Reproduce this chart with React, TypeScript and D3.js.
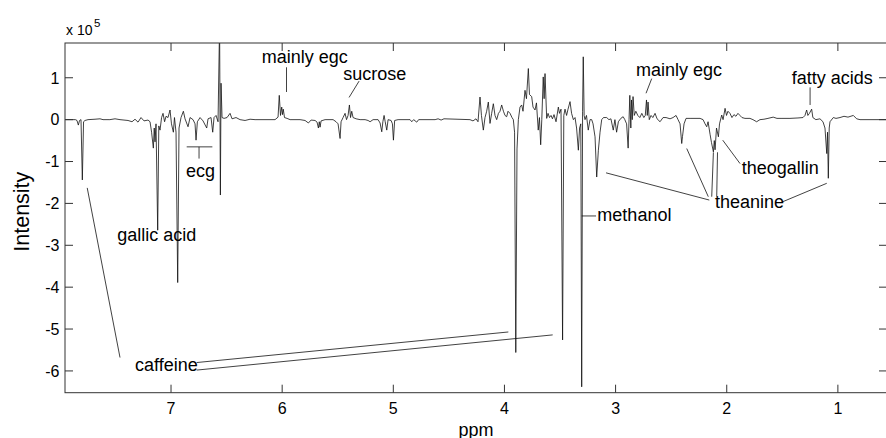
import React from "react";
import * as d3 from "d3";

// 1H NMR difference spectrum: [chemical shift (ppm), intensity (x 10^5)]
const spectrum: [number, number][] = [
  [7.95, 0], [7.91, 0], [7.86, 0], [7.846, -0.02], [7.834, -0.13], [7.823, -0.02], [7.81, 0],
  [7.798, -1.44], [7.787, -0.05], [7.774, -0.02], [7.747, 0], [7.684, 0.01], [7.639, 0.02],
  [7.612, 0], [7.55, 0], [7.504, 0.02], [7.459, 0], [7.387, -0.02], [7.351, -0.05], [7.324, 0.01],
  [7.297, -0.06], [7.27, 0.05], [7.243, -0.03], [7.207, -0.01], [7.189, -0.05], [7.175, -0.3],
  [7.159, -0.68], [7.151, -0.2], [7.144, -0.53], [7.135, -0.1], [7.12, -2.64], [7.11, -0.15],
  [7.099, -0.25], [7.085, 0.05], [7.072, 0.15], [7.058, -0.05], [7.045, 0.08], [7.027, 0.05],
  [7.009, 0.23], [6.996, -0.1], [6.979, -0.3], [6.969, 0.05], [6.955, -0.3], [6.94, -3.89],
  [6.928, -0.2], [6.91, 0.05], [6.889, 0.2], [6.874, 0.02], [6.847, -0.17], [6.829, 0.05],
  [6.802, 0], [6.784, -0.1], [6.775, -0.49], [6.763, -0.05], [6.739, 0.05], [6.712, -0.03],
  [6.679, -0.2], [6.667, 0.02], [6.64, 0.05], [6.625, -0.3], [6.613, 0.05], [6.595, 0.1],
  [6.577, -0.05], [6.563, 2.3], [6.556, -1.8], [6.55, 0.87], [6.541, 0.05], [6.523, 0.03],
  [6.496, 0.05], [6.469, 0.15], [6.451, 0.02], [6.415, 0.05], [6.379, 0], [6.334, -0.02],
  [6.289, 0.01], [6.244, 0], [6.064, 0], [6.037, 0.06], [6.026, 0.58], [6.015, 0.1], [6.004, 0.3],
  [5.997, 0.12], [5.99, 0.25], [5.979, 0.05], [5.956, 0.03], [5.929, 0], [5.839, 0], [5.794, -0.02],
  [5.764, -0.08], [5.74, -0.01], [5.704, -0.02], [5.686, -0.06], [5.674, -0.2], [5.666, -0.05],
  [5.659, -0.18], [5.65, -0.03], [5.614, 0], [5.542, 0], [5.515, -0.05], [5.497, -0.1],
  [5.479, -0.45], [5.47, -0.05], [5.452, 0.05], [5.434, 0.15], [5.421, 0], [5.407, 0.1],
  [5.395, 0.35], [5.385, 0.05], [5.374, 0.2], [5.362, 0.05], [5.335, 0.02], [5.299, 0], [5.254, 0],
  [5.227, -0.02], [5.209, -0.05], [5.182, 0], [5.137, 0], [5.119, -0.08], [5.104, -0.29],
  [5.094, -0.05], [5.083, 0.1], [5.073, -0.05], [5.059, -0.25], [5.047, 0], [5.02, -0.02],
  [5.008, -0.1], [4.999, -0.49], [4.988, -0.02], [4.957, 0], [4.849, 0], [4.834, -0.05], [4.817, 0],
  [4.789, -0.06], [4.772, 0], [4.624, 0], [4.597, 0.02], [4.57, -0.01], [4.544, 0.02], [4.31, 0],
  [4.283, -0.03], [4.256, 0.02], [4.238, -0.05], [4.22, 0.54], [4.207, 0.1], [4.19, -0.25],
  [4.175, 0.05], [4.16, 0.2], [4.145, 0.42], [4.13, -0.09], [4.115, 0.15], [4.1, 0.38], [4.085, 0.1],
  [4.07, 0], [4.054, 0.15], [4.04, 0.2], [4.025, 0.35], [4.009, 0.2], [3.995, 0.1], [3.98, 0.07],
  [3.968, 0.2], [3.95, 0.15], [3.932, 0.05], [3.92, 0], [3.909, -0.3], [3.898, -5.56], [3.887, -0.7],
  [3.875, 0], [3.86, 0.3], [3.845, 0.35], [3.833, 0.2], [3.815, 0.7], [3.802, 0.5], [3.785, 1.22],
  [3.775, 0.6], [3.755, 0.55], [3.743, 0.3], [3.725, 0.23], [3.712, 0.4], [3.696, -0.25],
  [3.685, 0.05], [3.674, -0.6], [3.664, 0], [3.651, 1.02], [3.643, 0.5], [3.635, 1.1], [3.62, 0.03],
  [3.608, 0.15], [3.595, 0.05], [3.581, 0.1], [3.568, 0.02], [3.554, 0.12], [3.536, -0.05],
  [3.515, 0.3], [3.505, 0.15], [3.491, 0.25], [3.477, -5.26], [3.466, 0.1], [3.455, 0.25],
  [3.441, 0.1], [3.428, 0.25], [3.41, 0.43], [3.396, 0.15], [3.38, 0], [3.365, 0.05], [3.351, -0.2],
  [3.335, -0.73], [3.324, -0.2], [3.313, -0.1], [3.305, -6.38], [3.297, 0.2], [3.291, 1.5],
  [3.283, 0.1], [3.275, 0], [3.262, 0.1], [3.246, -0.25], [3.23, 0], [3.215, 0], [3.203, -0.1],
  [3.185, -0.41], [3.17, -1.37], [3.155, -0.73], [3.14, -0.3], [3.125, 0], [3.109, 0.05],
  [3.08, 0.05], [3.06, 0], [3.042, 0.02], [3.021, -0.25], [3.006, 0], [2.991, -0.3], [2.975, -0.05],
  [2.953, 0.03], [2.932, 0.07], [2.917, 0], [2.901, -0.1], [2.887, -0.68], [2.879, 0], [2.872, 0.58],
  [2.863, -0.2], [2.857, 0.47], [2.85, 0], [2.843, 0.55], [2.832, 0.1], [2.818, 0.2], [2.8, 0.1],
  [2.782, 0.05], [2.764, 0.15], [2.746, 0.05], [2.733, 0.1], [2.722, 0.47], [2.715, 0.1],
  [2.708, 0.42], [2.697, 0], [2.681, 0.1], [2.665, 0.05], [2.645, 0.15], [2.627, 0.02], [2.6, -0.05],
  [2.573, 0.05], [2.546, 0.05], [2.51, 0.02], [2.483, 0.05], [2.456, 0.1], [2.438, 0], [2.42, -0.1],
  [2.405, -0.57], [2.398, -0.4], [2.384, -0.1], [2.366, 0.03], [2.33, 0.03], [2.24, 0.03],
  [2.213, 0], [2.195, -0.1], [2.18, -0.17], [2.168, -0.05], [2.15, -0.35], [2.137, -0.55],
  [2.12, -0.77], [2.112, -0.5], [2.105, -0.72], [2.092, -0.2], [2.075, -0.41], [2.065, -0.1],
  [2.045, 0.11], [2.033, 0], [2.015, 0.27], [2.002, 0.1], [1.989, 0.2], [1.971, 0.15], [1.953, 0.05],
  [1.935, 0.12], [1.917, 0.08], [1.899, 0.15], [1.881, 0.1], [1.863, 0.05], [1.836, 0.03],
  [1.791, 0.03], [1.764, 0], [1.731, -0.05], [1.701, 0], [1.665, 0.01], [1.629, 0.03], [1.582, 0.06],
  [1.548, 0.03], [1.503, 0.03], [1.431, 0.03], [1.359, 0.04], [1.314, 0.05], [1.296, 0.1],
  [1.281, 0.23], [1.27, 0.1], [1.256, 0.15], [1.236, 0.25], [1.225, 0.05], [1.198, 0], [1.161, 0.02],
  [1.134, -0.05], [1.116, -0.2], [1.1, -0.81], [1.093, -0.3], [1.086, -1.4], [1.078, -0.2],
  [1.071, -0.05], [1.041, 0.05], [1.017, 0.03], [0.981, 0.05], [0.945, 0.08], [0.909, 0.06],
  [0.861, 0.1], [0.831, 0.02], [0.801, 0], [0.558, 0],
];

const xTicks = [7, 6, 5, 4, 3, 2, 1];
const yTicks = [-6, -5, -4, -3, -2, -1, 0, 1];

// peak assignments (text start, in data units)
const labelText = ["mainly egc", "sucrose", "ecg", "gallic acid", "caffeine", "methanol",
  "mainly egc", "theanine", "theogallin", "fatty acids"];
const labelPpm = [6.184, 5.45, 6.865, 7.483, 7.324, 3.164, 2.816, 2.105, 1.865, 1.415];
const labelIntensity = [1.35, 0.94, -1.36, -2.89, -5.99, -2.42, 1.04, -2.12, -1.3, 0.86];

// leader lines [ppm1, int1, ppm2, int2]
const leaders = [
  [5.961, 1.25, 5.961, 0.66],
  [5.308, 0.92, 5.398, 0.53],
  [6.859, -0.65, 6.628, -0.65],
  [6.748, -0.65, 6.748, -0.93],
  [7.754, -1.63, 7.459, -5.68],
  [6.769, -5.8, 3.965, -5.07],
  [6.769, -5.98, 3.566, -5.14],
  [3.305, -2.3, 3.176, -2.3],
  [2.675, 0.98, 2.726, 0.63],
  [1.25, 0.77, 1.25, 0.35],
  [1.88, -1.05, 2.036, -0.49],
  [2.157, -1.92, 3.086, -1.27],
  [2.166, -1.84, 2.36, -0.69],
  [2.135, -1.84, 2.12, -0.78],
  [2.09, -1.84, 2.083, -0.78],
  [1.505, -1.97, 1.1, -1.52],
];

const W = 886;
const H = 438;
const left = 65;
const right = 887;
const top = 43;
const bottom = 392.7;
const font = "'Liberation Sans', Arial, Helvetica, sans-serif";

export default function App() {
  const x = d3.scaleLinear().domain([7.954, 0.558]).range([left, right]);
  const y = d3.scaleLinear().domain([-6.52, 1.83]).range([bottom, top]);

  const line = d3
    .line<[number, number]>()
    .x(d => x(d[0]))
    .y(d => y(d[1]));

  const tickLen = 8;

  return (
    <svg width={W} height={H} style={{ position: "absolute", left: 0, top: 0, background: "#fff" }}
      fontFamily={font}>
      <defs>
        <clipPath id="plotArea">
          <rect x={left} y={top} width={right - left} height={bottom - top} />
        </clipPath>
      </defs>

      <path d={line(spectrum) || ""} fill="none" stroke="#111" strokeWidth={0.8}
        clipPath="url(#plotArea)" />

      {/* annotation leaders */}
      {leaders.map((l, i) => (
        <line key={"ld" + i} x1={x(l[0])} y1={y(l[1])} x2={x(l[2])} y2={y(l[3])}
          stroke="#111" strokeWidth={0.8} />
      ))}
      {labelText.map((t, i) => (
        <text key={"lb" + i} x={x(labelPpm[i])} y={y(labelIntensity[i])} fontSize={18} fill="#000">
          {t}
        </text>
      ))}

      {/* axes box */}
      <rect x={left} y={top} width={right - left} height={bottom - top} fill="none"
        stroke="#333" strokeWidth={1} />
      {xTicks.map(t => (
        <g key={"xt" + t}>
          <line x1={x(t)} x2={x(t)} y1={bottom} y2={bottom - tickLen} stroke="#333" />
          <line x1={x(t)} x2={x(t)} y1={top} y2={top + tickLen} stroke="#333" />
          <text x={x(t)} y={413.5} fontSize={16} textAnchor="middle">{t}</text>
        </g>
      ))}
      {yTicks.map(t => (
        <g key={"yt" + t}>
          <line x1={left} x2={left + tickLen} y1={y(t)} y2={y(t)} stroke="#333" />
          <line x1={right - tickLen} x2={right} y1={y(t)} y2={y(t)} stroke="#333" />
          <text x={59.5} y={y(t)} dy="0.36em" fontSize={16} textAnchor="end">{t}</text>
        </g>
      ))}

      <text x={66} y={35} fontSize={14}>x 10</text>
      <text x={94} y={26.7} fontSize={11.5}>5</text>
      <text x={(left + right) / 2} y={435.5} fontSize={18} textAnchor="middle">ppm</text>
      <text transform={`translate(28.5, 211.7) rotate(-90)`} fontSize={21.5} textAnchor="middle">
        Intensity
      </text>
    </svg>
  );
}
